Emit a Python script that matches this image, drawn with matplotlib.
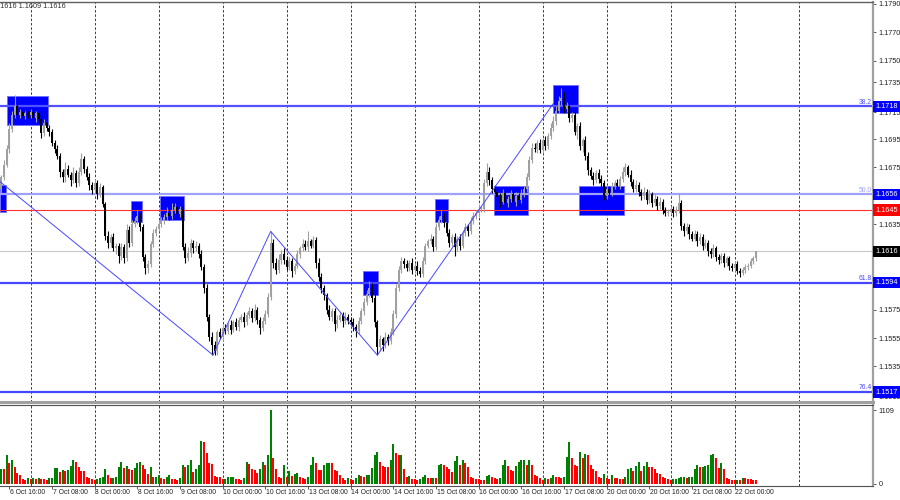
import matplotlib
matplotlib.use("Agg")
import matplotlib.pyplot as plt
from matplotlib.patches import Rectangle
import matplotlib.transforms as mtransforms

# hourly closes, EURUSD H1 from 6 Oct 13:00 to 22 Oct 08:00
closes = [
    1.1668, 1.1677, 1.1688, 1.1702, 1.1712, 1.1718, 1.1712, 1.1714, 1.1711, 1.1713,
    1.1712, 1.1714, 1.1710, 1.1713, 1.1709, 1.1699, 1.1706, 1.1703, 1.1700, 1.1692,
    1.1688, 1.1683, 1.1672, 1.1668, 1.1674, 1.1670, 1.1666, 1.1671, 1.1664, 1.1672,
    1.1681, 1.1674, 1.1668, 1.1663, 1.1659, 1.1664, 1.1656, 1.1661, 1.1649, 1.1627,
    1.1622, 1.1626, 1.1618, 1.1620, 1.1613, 1.1619, 1.1611, 1.1631, 1.1622, 1.1635,
    1.1637, 1.1641, 1.1633, 1.1612, 1.1604, 1.1607, 1.1621, 1.1629, 1.1632, 1.1635,
    1.1637, 1.1640, 1.1643, 1.1641, 1.1645, 1.1647, 1.1642, 1.1646, 1.1619, 1.1611,
    1.1615, 1.1622, 1.1618, 1.1620, 1.1614, 1.1605, 1.1590, 1.1570, 1.1556, 1.1550,
    1.1546, 1.1559, 1.1556, 1.1562, 1.1560, 1.1564, 1.1561, 1.1566, 1.1563, 1.1568,
    1.1570, 1.1566, 1.1571, 1.1574, 1.1569, 1.1575, 1.1568, 1.1562, 1.1567, 1.1572,
    1.1584, 1.1622, 1.1608, 1.1603, 1.1610, 1.1614, 1.1610, 1.1605, 1.1609, 1.1602,
    1.1606, 1.1614, 1.1618, 1.1621, 1.1619, 1.1623, 1.1620, 1.1624, 1.1608, 1.1598,
    1.1590, 1.1585, 1.1575, 1.1570, 1.1574, 1.1565, 1.1568, 1.1571, 1.1567, 1.1570,
    1.1568, 1.1566, 1.1563, 1.1560, 1.1567, 1.1574, 1.1580, 1.1586, 1.1590, 1.1583,
    1.1566, 1.1549, 1.1554, 1.1550, 1.1556, 1.1553, 1.1559, 1.1572, 1.1590, 1.1603,
    1.1609, 1.1607, 1.1604, 1.1608, 1.1603, 1.1606, 1.1602, 1.1600, 1.1609, 1.1620,
    1.1623, 1.1625, 1.1619, 1.1633, 1.1638, 1.1641, 1.1636, 1.1629, 1.1622, 1.1626,
    1.1619, 1.1625, 1.1620, 1.1629, 1.1633, 1.1630, 1.1637, 1.1641, 1.1643, 1.1646,
    1.1646, 1.1664, 1.1672, 1.1666, 1.1660, 1.1658, 1.1654, 1.1651, 1.1657, 1.1650,
    1.1653, 1.1656, 1.1651, 1.1655, 1.1652, 1.1657, 1.1660, 1.1668, 1.1680, 1.1689,
    1.1688, 1.1692, 1.1687, 1.1694, 1.1690, 1.1697, 1.1703, 1.1708, 1.1715, 1.1722,
    1.1724, 1.1716, 1.1718, 1.1710, 1.1712, 1.1700, 1.1704, 1.1690, 1.1694, 1.1683,
    1.1673, 1.1669, 1.1666, 1.1671, 1.1667, 1.1664, 1.1655, 1.1660, 1.1657, 1.1662,
    1.1664, 1.1662, 1.1667, 1.1672, 1.1675, 1.1670, 1.1665, 1.1660, 1.1663, 1.1658,
    1.1655, 1.1658, 1.1652, 1.1656, 1.1650, 1.1653, 1.1648, 1.1651, 1.1645, 1.1643,
    1.1644, 1.1646, 1.1643, 1.1645, 1.1650, 1.1634, 1.1630, 1.1633, 1.1628, 1.1625,
    1.1628, 1.1623, 1.1626, 1.1620, 1.1622, 1.1616, 1.1614, 1.1618, 1.1612, 1.1610,
    1.1613, 1.1608, 1.1611, 1.1606, 1.1604, 1.1607, 1.1602, 1.1601, 1.1603, 1.1605,
    1.1606, 1.1609, 1.1611, 1.1616,
]
first_open = 1.1660

# wick sizes in pips above max(open, close) and below min(open, close)
up_wick = [
    2, 3, 3, 4, 3, 8, 3, 2, 3, 2,  2, 2, 3, 2, 2, 2, 3, 2, 2, 2,
    2, 3, 2, 2, 5, 3, 2, 4, 2, 3,  4, 2, 2, 3, 2, 3, 2, 3, 2, 2,
    3, 2, 3, 2, 2, 3, 2, 4, 3, 3,  3, 4, 2, 2, 2, 3, 2, 3, 2, 3,
    3, 2, 4, 3, 5, 3, 3, 2, 2, 3,  4, 3, 2, 3, 2, 3, 2, 3, 2, 3,
    3, 2, 3, 2, 3, 2, 4, 2, 3, 2,  2, 3, 2, 3, 2, 4, 2, 2, 3, 3,
    3, 8, 3, 3, 4, 3, 4, 3, 3, 2,  2, 3, 2, 4, 3, 7, 2, 3, 2, 3,
    3, 2, 2, 3, 2, 2, 3, 2, 2, 3,  2, 2, 3, 2, 3, 2, 3, 3, 5, 4,
    3, 2, 3, 2, 3, 2, 3, 3, 3, 3,  3, 2, 3, 2, 3, 2, 3, 3, 3, 2,
    2, 3, 2, 3, 3, 4, 2, 2, 3, 2,  3, 2, 3, 2, 3, 2, 3, 3, 2, 3,
    2, 3, 6, 3, 2, 3, 2, 3, 3, 2,  2, 3, 2, 3, 2, 3, 2, 3, 3, 3,
    3, 2, 3, 2, 3, 2, 3, 3, 3, 3,  7, 4, 3, 3, 2, 3, 2, 3, 2, 3,
    3, 2, 3, 2, 3, 3, 2, 3, 2, 3,  2, 3, 2, 3, 3, 2, 3, 2, 3, 2,
    2, 3, 2, 3, 2, 3, 2, 3, 2, 2,  2, 2, 2, 3, 7, 2, 2, 3, 2, 2,
    3, 2, 3, 2, 3, 2, 2, 3, 2, 2,  2, 2, 2, 2, 2, 2, 2, 2, 2, 2,
    2, 2, 2, 0,
]
down_wick = [
    3, 2, 2, 3, 2, 2, 3, 2, 2, 2,  2, 2, 2, 3, 2, 3, 2, 2, 3, 2,
    3, 2, 4, 3, 3, 2, 4, 2, 3, 2,  2, 3, 2, 4, 3, 2, 3, 2, 2, 3,
    4, 3, 2, 4, 5, 3, 3, 2, 3, 2,  2, 2, 3, 3, 4, 3, 2, 2, 2, 2,
    2, 2, 2, 3, 2, 2, 3, 2, 2, 3,  2, 3, 3, 2, 3, 2, 3, 3, 3, 7,
    3, 3, 2, 3, 2, 2, 3, 2, 2, 3,  2, 3, 2, 2, 3, 2, 3, 4, 2, 2,
    2, 2, 4, 3, 2, 3, 3, 2, 2, 4,  2, 2, 3, 2, 2, 3, 2, 2, 4, 3,
    3, 3, 3, 2, 3, 5, 3, 2, 4, 2,  3, 2, 3, 4, 2, 2, 3, 2, 2, 3,
    3, 6, 3, 4, 2, 3, 2, 2, 3, 2,  2, 3, 2, 2, 3, 2, 3, 2, 2, 2,
    2, 2, 3, 2, 2, 2, 3, 2, 3, 2,  6, 3, 3, 2, 2, 3, 2, 2, 2, 3,
    2, 2, 2, 3, 3, 2, 3, 4, 2, 3,  3, 2, 3, 3, 4, 2, 3, 2, 2, 2,
    2, 3, 2, 2, 3, 2, 2, 2, 3, 2,  3, 3, 2, 3, 3, 2, 5, 3, 4, 3,
    3, 2, 3, 2, 3, 3, 3, 2, 3, 2,  2, 3, 2, 2, 3, 2, 3, 2, 2, 3,
    3, 2, 3, 2, 3, 2, 3, 2, 3, 2,  2, 2, 3, 2, 2, 3, 3, 2, 3, 2,
    2, 3, 2, 3, 2, 3, 3, 2, 3, 3,  2, 3, 2, 3, 2, 2, 2, 3, 2, 2,
    2, 2, 2, 2,
]

volumes = [
    230, 220, 440, 310, 355, 250, 160, 140, 70, 65,
    85, 80, 95, 80, 85, 80, 70, 60, 85, 95,
    240, 245, 180, 205, 195, 205, 270, 365, 325, 260,
    200, 190, 100, 95, 70, 60, 70, 85, 100, 220,
    130, 90, 95, 100, 260, 335, 240, 270, 220, 215,
    240, 310, 335, 280, 220, 150, 260, 100, 110, 130,
    90, 75, 100, 135, 80, 70, 65, 95, 290, 260,
    280, 355, 180, 230, 280, 645, 630, 460, 310, 305,
    120, 110, 105, 70, 80, 100, 105, 112, 70, 68,
    66, 90, 325, 295, 220, 210, 170, 230, 325, 290,
    440, 1109, 390, 230, 100, 95, 290, 100, 190, 120,
    145, 160, 100, 85, 82, 100, 290, 405, 315, 210,
    205, 290, 310, 315, 310, 210, 200, 130, 90, 65,
    90, 75, 65, 90, 130, 120, 100, 130, 135, 240,
    440, 480, 325, 270, 260, 255, 355, 600, 470, 430,
    440, 230, 110, 120, 80, 70, 65, 70, 100, 140,
    90, 85, 90, 85, 280, 295, 290, 260, 220,
    180, 340, 415, 290, 365, 315, 260, 100, 85, 70,
    68, 66, 62, 120, 140, 100, 90, 70, 90, 280,
    365, 270, 210, 200, 270, 335, 355, 365, 280, 355,
    280, 140, 120, 85, 65, 90, 75, 90, 130, 110,
    100, 95, 110, 405, 630, 395, 280, 275, 480, 395,
    445, 430, 280, 220, 200, 100, 90, 150, 85, 80,
    130, 90, 88, 80, 70, 110, 230, 235, 190, 270,
    335, 200, 270, 325, 260, 250, 220, 170, 150, 110,
    85, 80, 65, 68, 72, 90, 100, 104, 95, 100,
    110, 220, 290, 250, 260, 275, 290, 440, 450, 385,
    240, 315, 220, 90, 80, 65, 62, 66, 55, 90,
    88, 80, 70, 65, 55,
]

time_labels = ["6 Oct 16:00", "7 Oct 08:00", "8 Oct 00:00", "8 Oct 16:00", "9 Oct 08:00",
               "10 Oct 00:00", "10 Oct 16:00", "13 Oct 08:00", "14 Oct 00:00", "14 Oct 16:00",
               "15 Oct 08:00", "16 Oct 00:00", "16 Oct 16:00", "17 Oct 08:00", "20 Oct 00:00",
               "20 Oct 16:00", "21 Oct 08:00", "22 Oct 00:00"]
first_label_bar = 3
label_step = 16
midnight_bars = [11, 35, 59, 83, 107, 131, 155, 179, 203, 227, 251, 275, 299]

# scale labels that stay visible beside the coloured price boxes
price_ticks = [1.1790, 1.1770, 1.1750, 1.1735, 1.1714, 1.1695, 1.1675,
               1.1635, 1.1575, 1.1555, 1.1535, 1.1514]
price_tick_text = ["1.1790", "1.1770", "1.1750", "1.1735", "1.1715", "1.1695", "1.1675",
                   "1.1635", "1.1575", "1.1555", "1.1535", "1.1515"]

fib_levels = [1.1718, 1.1656, 1.1594, 1.1517]
fib_names = ["38.2", "50.0", "61.8", "76.4"]
fib_colors = ["#5252ff", "#a0a0ff", "#4646ff", "#4646ff"]
red_level = 1.1645
bid_price = 1.1616
ohlc_text = "1.1616 1.1609 1.1616"

# blue zones: (first bar, last bar, low, high)
zones = [
    (-0.5, 1.8, 1.16437, 1.16627),
    (2.1, 17.5, 1.17049, 1.17253),
    (48.6, 52.8, 1.16366, 1.16514),
    (59.5, 68.5, 1.16380, 1.16549),
    (135.6, 141.3, 1.15853, 1.16021),
    (162.6, 167.5, 1.16366, 1.16528),
    (184.7, 197.5, 1.16415, 1.16620),
    (206.9, 216.2, 1.17133, 1.17330),
    (216.6, 233.5, 1.16415, 1.16620),
]

zigzag_bars = [-0.5, 79.4, 101, 141, 207]
zigzag_prices = [1.1665, 1.1543, 1.1630, 1.1543, 1.1720]

fam = ["Liberation Sans", "DejaVu Sans"]
fs = 5.2

fig = plt.figure(figsize=(9, 5), dpi=100)
fig.patch.set_facecolor("white")
ax = fig.add_axes([0, 1 - 402 / 500, 873 / 900, 400 / 500])
vax = fig.add_axes([0, 1 - 486 / 500, 873 / 900, 81 / 500])

xlim = (-0.49, 326.85)
ax.set_xlim(*xlim)
vax.set_xlim(*xlim)
ax.set_ylim(1.15100, 1.17914)
vax.set_ylim(-30, 1184)

n = len(closes)
opens = [first_open] + closes[:-1]
pip = 0.0001

# zones under the candles
for x0, x1, lo, hi in zones:
    ax.add_patch(Rectangle((x0, lo), x1 - x0, hi - lo, facecolor="#0000ff",
                           edgecolor="#7070ff", lw=0.6, zorder=1))

# horizontal levels
for lvl, name, col in zip(fib_levels, fib_names, fib_colors):
    ax.axhline(lvl, color=col, lw=1.6, zorder=2)
    ax.text(xlim[1] - 0.3, lvl + 0.00005, name, color=col, fontsize=fs - 0.3, ha="right",
            va="bottom", family=fam, zorder=5)
ax.axhline(red_level, color="#ff3030", lw=0.8, zorder=2)
ax.axhline(bid_price, color="#c8c8c8", lw=0.8, zorder=2)

# vertical grid at midnight
for b in midnight_bars:
    ax.axvline(b, color="#202020", lw=0.6, ls=(0, (3, 2.2)), zorder=0)
    vax.axvline(b, color="#202020", lw=0.6, ls=(0, (3, 2.2)), zorder=0)

# zigzag
ax.plot(zigzag_bars, zigzag_prices, color="#4848ff", lw=0.7, zorder=4)

# candles
for i in range(n):
    o, c = opens[i], closes[i]
    top, bot = max(o, c), min(o, c)
    hi = top + up_wick[i] * pip
    lo = bot - down_wick[i] * pip
    col = "#a0a0a0" if c >= o else "#000000"
    ax.vlines(i, lo, hi, color=col, lw=0.8, zorder=3)
    ax.bar(i, max(top - bot, 0.00003), bottom=bot, width=0.78, color=col,
           edgecolor="none", zorder=3)

# volumes: green when rising vs previous bar
vcols = ["#008000"] + ["#008000" if volumes[k] > volumes[k - 1] else "#ff0000"
                       for k in range(1, len(volumes))]
vax.bar(range(len(volumes)), volumes, width=0.75, color=vcols, edgecolor="none", zorder=2)

# axes styling
for a in (ax, vax):
    a.set_facecolor("white")
    a.spines["left"].set_visible(False)
    a.spines["right"].set_color("#a0a0a0")
    a.spines["right"].set_linewidth(1.6)
    a.yaxis.tick_right()
    a.tick_params(axis="y", length=2.5, width=0.6, color="#404040", pad=1.5,
                  labelsize=fs, labelcolor="#202020")
ax.spines["top"].set_color("#606060")
ax.spines["top"].set_linewidth(1.0)
ax.spines["bottom"].set_color("#a0a0a0")
ax.spines["bottom"].set_linewidth(2.2)
vax.spines["top"].set_color("#505050")
vax.spines["top"].set_linewidth(0.8)
vax.spines["bottom"].set_color("#505050")
vax.spines["bottom"].set_linewidth(0.8)

ax.set_yticks(price_ticks)
ax.set_yticklabels(price_tick_text, family=fam)
ax.set_xticks([])
vax.set_yticks([0, 1109])
vax.set_yticklabels(["0", "1109"], family=fam)

label_bars = [first_label_bar + label_step * k for k in range(len(time_labels))]
vax.set_xticks(label_bars)
vax.set_xticklabels([])
vax.tick_params(axis="x", length=2, width=0.6, color="#404040")
trans = mtransforms.blended_transform_factory(vax.transData, vax.transAxes)
for b, lab in zip(label_bars, time_labels):
    vax.text(b + 0.2, -0.04, lab, transform=trans, ha="left", va="top", fontsize=fs - 0.3,
             color="#202020", family=fam, clip_on=False)

# price boxes on the right scale
boxes = [(lvl, "#0000ff") for lvl in fib_levels] + [(red_level, "#ff0000"), (bid_price, "#000000")]
ytrans = mtransforms.blended_transform_factory(ax.transAxes, ax.transData)
for lvl, bg in boxes:
    ax.text(1.0 + 2 / 873, lvl, "%.4f" % lvl, transform=ytrans, ha="left", va="center",
            fontsize=fs, color="white", family=fam, clip_on=False,
            zorder=6, bbox=dict(boxstyle="square,pad=0.3", facecolor=bg, edgecolor="none"))

# OHLC readout, cut by the left edge as in the terminal window
fig.text(66 / 900, 1 - 7 / 500, ohlc_text, ha="right", va="center",
         fontsize=fs, color="#303030", family=fam)

fig.savefig("out.png", dpi=100, facecolor="white")
